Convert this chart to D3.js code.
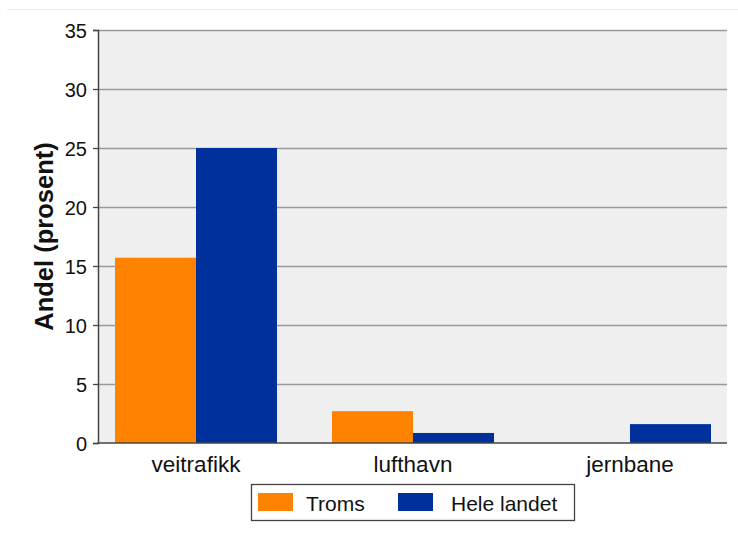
<!DOCTYPE html>
<html><head><meta charset="utf-8">
<script src="https://cdn.jsdelivr.net/npm/d3@7"></script>
<style>body{margin:0;background:#fff}svg{display:block;font-family:"Liberation Sans",Arial,sans-serif}</style>
</head><body><svg id="c" width="738" height="538"></svg>
<script>
const categories = ["veitrafikk", "lufthavn", "jernbane"];
const seriesNames = ["Troms", "Hele landet"];
const troms = [15.7, 2.7, 0];
const heleLandet = [25.0, 0.85, 1.6];
const yTicks = [0, 5, 10, 15, 20, 25, 30, 35];
const colors = ["#ff8300", "#00309c"];

const svg = d3.select("#c");
const plot = {left: 98, right: 727, top: 30, bottom: 443};
const FF = "'Liberation Sans',Arial,sans-serif";

svg.append("line").attr("x1", 7).attr("x2", 738).attr("y1", 9.5).attr("y2", 9.5)
  .attr("stroke", "#e6eef0").attr("stroke-width", 1);

const y = d3.scaleLinear().domain([0, 35]).range([plot.bottom, plot.top]);
const x = d3.scaleBand().domain(categories).range([87.5, 738.5]).paddingInner(0).paddingOuter(0);
const groupW = 162;
const xs = d3.scaleBand().domain(seriesNames).range([0, groupW]);

svg.append("rect").attr("x", plot.left).attr("y", plot.top)
  .attr("width", plot.right - plot.left).attr("height", plot.bottom - plot.top).attr("fill", "#efefef");

// grid
svg.append("g").selectAll("line").data(yTicks.filter(d => d > 0)).join("line")
  .attr("x1", plot.left).attr("x2", plot.right)
  .attr("y1", d => Math.round(y(d)) + 0.5).attr("y2", d => Math.round(y(d)) + 0.5)
  .attr("stroke", "#9a9a9a").attr("stroke-width", 1.3);

const data = [troms, heleLandet];
const g = svg.append("g");
categories.forEach((c, i) => {
  seriesNames.forEach((s, j) => {
    const v = data[j][i];
    if (v <= 0) return;
    const cx = x(c) + x.bandwidth() / 2 - groupW / 2;
    g.append("rect")
      .attr("x", cx + xs(s)).attr("width", xs.bandwidth())
      .attr("y", y(v)).attr("height", y(0) - y(v))
      .attr("fill", colors[j]);
  });
});

// y axis
const yAxis = d3.axisLeft(y).tickValues(yTicks).tickSize(5).tickPadding(6);
const ya = svg.append("g").attr("transform", `translate(${plot.left},0)`).call(yAxis);
ya.attr("font-size", null).attr("font-family", null);
ya.select(".domain").attr("stroke", "#444").attr("stroke-width", 1.5);
ya.selectAll(".tick line").attr("stroke", "#444").attr("stroke-width", 1.3);
ya.selectAll(".tick text").style("font-size", "20px").attr("fill", "#111").style("font-family", FF)
  .attr("dy", "0.35em");

// x axis
const xAxis = d3.axisBottom(x).tickSize(0).tickPadding(0);
const xa = svg.append("g").attr("transform", `translate(0,${plot.bottom})`).call(xAxis);
xa.attr("font-size", null).attr("font-family", null);
xa.select(".domain").remove();
xa.append("line").attr("x1", plot.left).attr("x2", plot.right).attr("y1", 0).attr("y2", 0)
  .attr("stroke", "#444").attr("stroke-width", 1.5);
xa.selectAll(".tick text").style("font-size", "22.5px").attr("fill", "#111").style("font-family", FF)
  .attr("y", 29).attr("dy", null);

// y title
svg.append("text").attr("transform", `translate(53,236.5) rotate(-90)`)
  .attr("text-anchor", "middle").style("font-size", "25.5px").attr("font-weight", "bold")
  .attr("fill", "#111").text("Andel (prosent)");

// legend
const lg = svg.append("g");
lg.append("rect").attr("x", 251.5).attr("y", 484.5).attr("width", 323).attr("height", 36)
  .attr("fill", "#fff").attr("stroke", "#444").attr("stroke-width", 1.3);
const legX = [258, 398];
const legTX = [306, 451];
seriesNames.forEach((s, j) => {
  lg.append("rect").attr("x", legX[j]).attr("y", 493).attr("width", 35).attr("height", 18).attr("fill", colors[j]);
  lg.append("text").attr("x", legTX[j]).attr("y", 510.5).style("font-size", "21px").attr("fill", "#111").text(s);
});
</script></body></html>
